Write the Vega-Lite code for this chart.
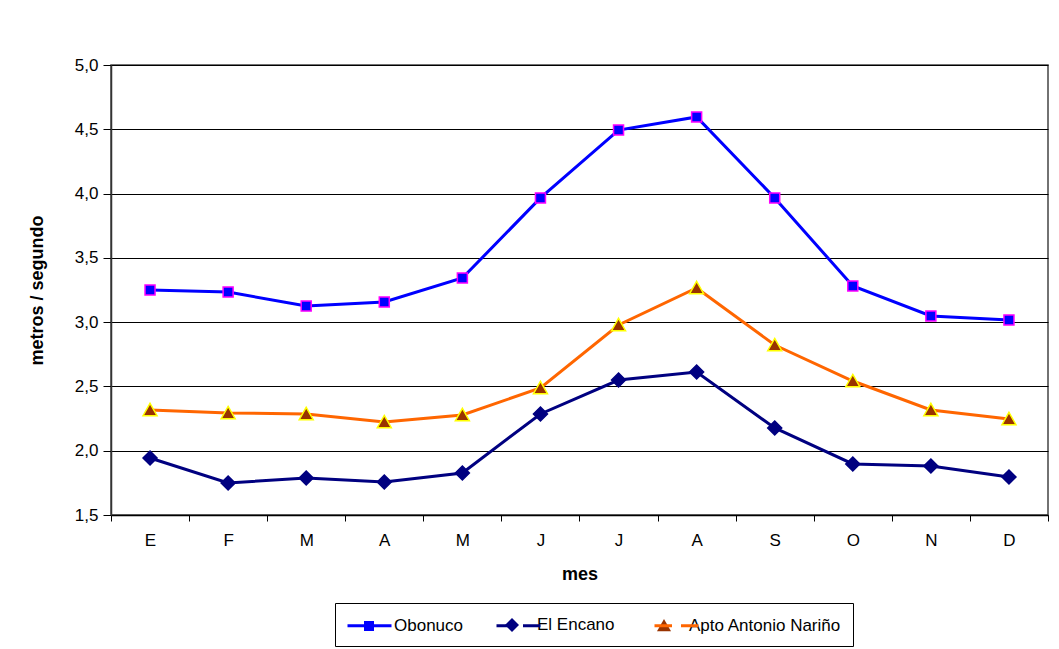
{
  "$schema": "https://vega.github.io/schema/vega-lite/v6.json",
  "width": 937,
  "height": 450,
  "autosize": {"type": "none"},
  "padding": {"left": 111, "top": 65, "right": 11, "bottom": 134},
  "background": "white",
  "config": {
    "font": "Liberation Sans",
    "view": {"stroke": "#444", "strokeWidth": 1.5}
  },
  "data": {
    "values": [
      {"mes": "E", "serie": "Obonuco", "valor": 3.25},
      {"mes": "F", "serie": "Obonuco", "valor": 3.234},
      {"mes": "M1", "serie": "Obonuco", "valor": 3.125},
      {"mes": "A1", "serie": "Obonuco", "valor": 3.157},
      {"mes": "M2", "serie": "Obonuco", "valor": 3.343},
      {"mes": "J1", "serie": "Obonuco", "valor": 3.966},
      {"mes": "J2", "serie": "Obonuco", "valor": 4.494},
      {"mes": "A2", "serie": "Obonuco", "valor": 4.596},
      {"mes": "S", "serie": "Obonuco", "valor": 3.966},
      {"mes": "O", "serie": "Obonuco", "valor": 3.281},
      {"mes": "N", "serie": "Obonuco", "valor": 3.048},
      {"mes": "D", "serie": "Obonuco", "valor": 3.017},
      {"mes": "E", "serie": "El Encano", "valor": 1.943},
      {"mes": "F", "serie": "El Encano", "valor": 1.749},
      {"mes": "M1", "serie": "El Encano", "valor": 1.788},
      {"mes": "A1", "serie": "El Encano", "valor": 1.757},
      {"mes": "M2", "serie": "El Encano", "valor": 1.827},
      {"mes": "J1", "serie": "El Encano", "valor": 2.286},
      {"mes": "J2", "serie": "El Encano", "valor": 2.55},
      {"mes": "A2", "serie": "El Encano", "valor": 2.612},
      {"mes": "S", "serie": "El Encano", "valor": 2.177},
      {"mes": "O", "serie": "El Encano", "valor": 1.897},
      {"mes": "N", "serie": "El Encano", "valor": 1.881},
      {"mes": "D", "serie": "El Encano", "valor": 1.796},
      {"mes": "E", "serie": "Apto Antonio Nariño", "valor": 2.317},
      {"mes": "F", "serie": "Apto Antonio Nariño", "valor": 2.293},
      {"mes": "M1", "serie": "Apto Antonio Nariño", "valor": 2.286},
      {"mes": "A1", "serie": "Apto Antonio Nariño", "valor": 2.223},
      {"mes": "M2", "serie": "Apto Antonio Nariño", "valor": 2.278},
      {"mes": "J1", "serie": "Apto Antonio Nariño", "valor": 2.488},
      {"mes": "J2", "serie": "Apto Antonio Nariño", "valor": 2.978},
      {"mes": "A2", "serie": "Apto Antonio Nariño", "valor": 3.266},
      {"mes": "S", "serie": "Apto Antonio Nariño", "valor": 2.822},
      {"mes": "O", "serie": "Apto Antonio Nariño", "valor": 2.542},
      {"mes": "N", "serie": "Apto Antonio Nariño", "valor": 2.317},
      {"mes": "D", "serie": "Apto Antonio Nariño", "valor": 2.247}
    ]
  },
  "encoding": {
    "x": {
      "field": "mes",
      "type": "ordinal",
      "sort": ["E", "F", "M1", "A1", "M2", "J1", "J2", "A2", "S", "O", "N", "D"],
      "scale": {"type": "band", "paddingInner": 0, "paddingOuter": 0},
      "axis": {
        "title": "mes",
        "labelExpr": "isValid(datum.value) ? substring(datum.value, 0, 1) : ''",
        "labelAngle": 0,
        "tickBand": "extent",
        "tickSize": 6,
        "tickColor": "#000",
        "domainColor": "#000",
        "domainWidth": 1.5,
        "labelFontSize": 17,
        "labelColor": "#000",
        "labelPadding": 11,
        "titleFontSize": 18,
        "titleFontWeight": "bold",
        "titleColor": "#000",
        "titlePadding": 17
      }
    },
    "y": {
      "field": "valor",
      "type": "quantitative",
      "scale": {"domain": [1.5, 5], "nice": false, "zero": false},
      "axis": {
        "title": "metros / segundo",
        "values": [1.5, 2, 2.5, 3, 3.5, 4, 4.5, 5],
        "labelExpr": "replace(format(datum.value, '.1f'), '.', ',')",
        "grid": true,
        "gridColor": "#000",
        "gridWidth": 1.2,
        "gridOpacity": 1,
        "tickSize": 8,
        "tickColor": "#000",
        "domainColor": "#333",
        "domainWidth": 1.5,
        "labelFontSize": 17,
        "labelColor": "#000",
        "labelPadding": 5,
        "titleFontSize": 18,
        "titleFontWeight": "bold",
        "titleColor": "#000",
        "titlePadding": 28
      }
    }
  },
  "layer": [
    {
      "mark": {"type": "line", "strokeWidth": 3},
      "encoding": {
        "stroke": {
          "field": "serie",
          "type": "nominal",
          "scale": {
            "domain": ["Obonuco", "El Encano", "Apto Antonio Nariño"],
            "range": ["#0000FF", "#000080", "#FF6600"]
          },
          "legend": {
            "title": null,
            "orient": "none",
            "legendX": 224,
            "legendY": 538,
            "direction": "horizontal",
            "symbolType": "M-2.2,0H-0.45M0.45,0H2.2",
            "symbolSize": 400,
            "symbolOffset": 12,
            "symbolStrokeWidth": 3,
            "symbolFillColor": "transparent",
            "labelFontSize": 17,
            "labelColor": "#000",
            "labelOpacity": 0,
            "labelOffset": 14,
            "columnPadding": 26,
            "padding": 11
          }
        }
      }
    },
    {
      "mark": {"type": "point", "filled": true, "size": 400, "strokeWidth": 1.5, "opacity": 1},
      "encoding": {
        "fill": {
          "field": "serie",
          "type": "nominal",
          "scale": {
            "domain": ["Obonuco", "El Encano", "Apto Antonio Nariño"],
            "range": ["#0000FF", "#000080", "#993300"]
          },
          "legend": null
        },
        "stroke": {
          "field": "serie",
          "type": "nominal",
          "scale": {
            "domain": ["Obonuco", "El Encano", "Apto Antonio Nariño"],
            "range": ["#FF00FF", "#000080", "#FFFF00"]
          },
          "legend": null
        },
        "shape": {
          "field": "serie",
          "type": "nominal",
          "scale": {
            "domain": ["Obonuco", "El Encano", "Apto Antonio Nariño"],
            "range": ["M-0.5,-0.5H0.5V0.5H-0.5Z", "M0,-0.7L0.7,0L0,0.7L-0.7,0Z", "M0,-0.66L0.7,0.57L-0.7,0.57Z"]
          },
          "legend": {
            "title": null,
            "orient": "none",
            "legendX": 224,
            "legendY": 538,
            "direction": "horizontal",
            "symbolSize": 400,
            "symbolOffset": 12,
            "symbolStrokeWidth": 1.5,
            "labelFontSize": 17,
            "labelColor": "#000",
            "labelOffset": 14,
            "columnPadding": 26,
            "padding": 11,
            "strokeColor": "#000",
            "encode": {
              "symbols": {
                "update": {
                  "fill": {"signal": "datum.value === 'Obonuco' ? '#0000FF' : datum.value === 'El Encano' ? '#000080' : '#993300'"},
                  "stroke": {"signal": "datum.value === 'Obonuco' ? '#FF00FF' : datum.value === 'El Encano' ? '#000080' : '#FFFF00'"},
                  "opacity": {"value": 1},
                  "fillOpacity": {"value": 1},
                  "strokeWidth": {"value": 1.5}
                }
              }
            }
          }
        }
      }
    }
  ],
  "resolve": {"scale": {"stroke": "independent"}, "legend": {"stroke": "independent"}}
}
